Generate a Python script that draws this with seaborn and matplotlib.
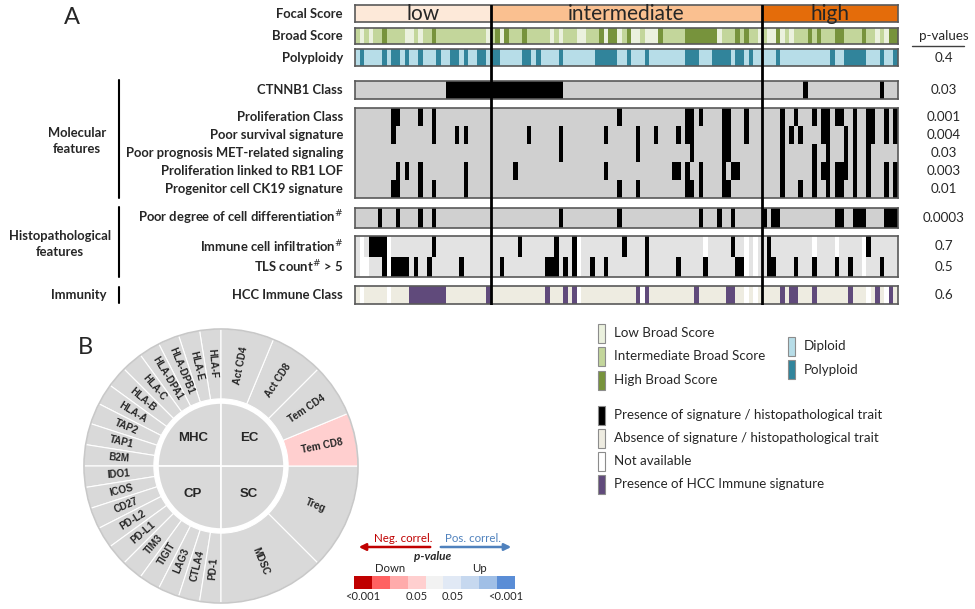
"""
Painel A: trilhas por amostra (escores, assinaturas, histologia, imunidade)
Painel B: anel de sinais imunes + escala de p-valor
"""
import numpy as np
import matplotlib

matplotlib.use("Agg")
import matplotlib.pyplot as plt
import matplotlib.transforms as mtransforms
from matplotlib.colors import ListedColormap
from matplotlib.lines import Line2D
from matplotlib.patches import Circle, Rectangle
import seaborn as sns

sns.set_theme(style="white")
plt.rcParams["font.family"] = ["Lato", "DejaVu Sans"]

# ---------------- dados ----------------
focal_groups = ["low", "intermediate", "high"]
focal_counts = [30, 60, 30]

# l = low, i = intermediate, h = high
broad_score = (
    "ililiihiii" "illiliihii" "iiiiiiiiil" "ihlhiiihii" "iiililiiil" "liiihlhhli"
    "hllilllhii" "iiihhhhhhh" "liiihihiil" "illhliliii" "hihiiihhii" "iihiililhh"
)
# d = diploid, p = polyploid
polyploidy = (
    "dpddddpdpp" "dpddpdddpd" "dppdpddppd" "ppdddddppd" "pddddpdddd" "dddpppppdd"
    "pdddpddddd" "dddpppdddp" "pppdppdpdd" "dddpdddddd" "dddddpddpp" "pppdddpddp"
)
# . = ausente, x = presente, - = não disponível
ctnnb1_class = (
    ".........." ".........." "xxxxxxxxxx" "xxxxxxxxxx" "xxxxxx...." ".........."
    ".........." ".........." ".........." ".........x" ".........." "......x..."
)
proliferation_class = (
    "........xx" "....x..x.." ".........." ".........." ".........." "........x."
    ".........." "...xx.x..." ".xx...x..." "....x..x.." ".x.xx.xx.." "x..xx..x.x"
)
poor_survival = (
    "........x." ".......x.." "..x.x....." "........x." ".....x...." ".....x...."
    "..x...x..." ".x.xx....." ".xx...x..." "....x.x.x." "...xx...x." "x..xx..x.x"
)
met_signaling = (
    ".........." ".........." ".........." ".........." ".....x...." ".........."
    "..x......." "....x....." ".xx......." "....x....." ".x..x...x." "x..x......"
)
rb1_lof = (
    ".........x" ".x..x....." "....x....." ".....x...." ".........." ".....x...."
    ".........." "xx.x..x..." ".x.xx....." "....x....." ".x.xx.xxx." "x..x...x.x"
)
ck19_signature = (
    "........xx" "....x..x.." "....x....." ".........." ".........." "........x."
    "..x......." "...xx.x..." ".xx......." "....x...x." ".x..x.xx.." "x..x...x.x"
)
poor_differentiation = (
    ".....x...x" "....x..x.." ".........." ".........." ".....x...." "........x."
    ".........." "......x..." "x..x......" "x.xx......" "......xx.." "xxx....xxx"
)
immune_infiltration = (
    ".-.xxxx-.." ".......x.." ".........." "......x..." "....x...x-" ".........x"
    "....x....." ".......-.." "...x..-.-." ".x........" ".-....-..." "..-x......"
)
tls_count = (
    ".--...x-xx" "xx.x..x..." "...x......" "..x......." "..xxx.x.x-" "..x..x...."
    "....x....." ".x.....x.." "....xx-.-." ".xx....x.." ".x....x..x" "..-...x..."
)
hcc_immune_class = (
    ".-.....-.." "..xxxxxxxx" ".........x" ".........." "..x...x.x-" ".........."
    "..x-x....." ".....x...." "..xx..-.-." "....x.xx.." ".x.......x" "...-.x.-x."
)

p_poly = ["0.4"]
p_ctnnb1 = ["0.03"]
p_molecular = ["0.001", "0.004", "0.03", "0.003", "0.01"]
p_differentiation = ["0.0003"]
p_immune = ["0.7", "0.5"]
p_hcc = ["0.6"]

molecular_labels = [
    "Proliferation Class",
    "Poor survival signature",
    "Poor prognosis MET-related signaling",
    "Proliferation linked to RB1 LOF",
    "Progenitor cell CK19 signature",
]
immune_labels = [r"Immune cell infiltration$^{\#}$", r"TLS count$^{\#}$ > 5"]

# painel B
ring_order = ["MHC", "CP", "SC", "EC"]
ring_groups = {
    "MHC": ["HLA-F", "HLA-E", "HLA-DPB1", "HLA-DPA1", "HLA-C", "HLA-B",
            "HLA-A", "TAP2", "TAP1", "B2M"],
    "CP": ["IDO1", "ICOS", "CD27", "PD-L2", "PD-L1", "TIM3", "TIGIT",
           "LAG3", "CTLA4", "PD-1"],
    "SC": ["MDSC", "Treg"],
    "EC": ["Tem CD8", "Tem CD4", "Act CD8", "Act CD4"],
}
ring_signif = {"Tem CD8": 3}  # índice na escala de p-valor
scale_colors = ["#c00000", "#ff6161", "#ffabab", "#ffcfcf", "#f2f2f2",
                "#e1e9f5", "#c6d8ef", "#a0bfe6", "#5a8dd6"]
scale_ticks = ["<0.001", "0.05", "0.05", "<0.001"]

broad_legend = ["Low Broad Score", "Intermediate Broad Score", "High Broad Score"]
ploidy_legend = ["Diploid", "Polyploid"]
trait_legend = ["Presence of signature / histopathological trait",
                "Absence of signature / histopathological trait",
                "Not available", "Presence of HCC Immune signature"]

# ---------------- cores ----------------
FOCAL_COLORS = ["#fde9d9", "#fac090", "#e46c0a"]
BROAD_COLORS = ["#ebf1de", "#c3d69b", "#77933c"]
PLOIDY_COLORS = ["#b7dde8", "#31849b"]
BINARY_COLORS = ["#d0d0d0", "black"]
IMMUNE_COLORS = ["#e3e3e3", "black", "white"]
HCC_COLORS = ["#eeece1", "#604a7b", "white"]
TRAIT_COLORS = ["black", "#eeece1", "white", "#604a7b"]

LABEL_FS = 9.4

W, H = 975, 609
fig = plt.figure(figsize=(W / 100, H / 100), dpi=100)


def px_axes(x0, y0, x1, y1):
    """Cria eixos a partir de coordenadas em pixels (origem no topo)."""
    return fig.add_axes([x0 / W, 1 - y1 / H, (x1 - x0) / W, (y1 - y0) / H])


# eixo de fundo em pixels para textos soltos, chaves e legenda
ax_px = fig.add_axes([0, 0, 1, 1])
ax_px.set_xlim(0, W)
ax_px.set_ylim(H, 0)
ax_px.axis("off")

TX0, TX1 = 355, 898
focal_row = "".join(c * n for c, n in zip("lih", focal_counts))

tracks = [
    ([focal_row], "lih", FOCAL_COLORS, (5, 22), ["Focal Score"], []),
    ([broad_score], "lih", BROAD_COLORS, (28, 44), ["Broad Score"], []),
    ([polyploidy], "dp", PLOIDY_COLORS, (49, 66), ["Polyploidy"], p_poly),
    ([ctnnb1_class], ".x", BINARY_COLORS, (81, 99), ["CTNNB1 Class"], p_ctnnb1),
    ([proliferation_class, poor_survival, met_signaling, rb1_lof, ck19_signature],
     ".x", BINARY_COLORS, (108, 198), molecular_labels, p_molecular),
    ([poor_differentiation], ".x", BINARY_COLORS, (208, 228),
     [r"Poor degree of cell differentiation$^{\#}$"], p_differentiation),
    ([immune_infiltration, tls_count], ".x-", IMMUNE_COLORS, (236, 277),
     immune_labels, p_immune),
    ([hcc_immune_class], ".x-", HCC_COLORS, (286, 304), ["HCC Immune Class"], p_hcc),
]

for rows, codes, colors, (y0, y1), labels, pvals in tracks:
    ax = px_axes(TX0, y0, TX1, y1)
    mat = np.array([[codes.index(c) for c in r] for r in rows])
    sns.heatmap(mat, ax=ax, cmap=ListedColormap(colors), vmin=-0.5,
                vmax=len(colors) - 0.5, cbar=False,
                xticklabels=False, yticklabels=False)
    for s in ax.spines.values():
        s.set_visible(True)
        s.set_color("#595959")
        s.set_linewidth(1.2)
    tf = mtransforms.blended_transform_factory(fig.transFigure, ax.transData)
    for i, lab in enumerate(labels):
        ax.text(343 / W, i + 0.5, lab, transform=tf, ha="right", va="center",
                fontsize=LABEL_FS, fontweight="bold")
    for i, p in enumerate(pvals):
        ax.text(944 / W, i + 0.5, p, transform=tf, ha="center", va="center",
                fontsize=9.6)
    if rows[0] == focal_row:
        start = 0
        for name, n in zip(focal_groups, focal_counts):
            ax.text(start + n / 2, 0.5, name, ha="center", va="center",
                    fontsize=15)
            start += n

# linhas verticais separando os grupos do Focal Score
ax_sep = px_axes(TX0, 5, TX1, 305)
ax_sep.set_xlim(0, sum(focal_counts))
ax_sep.set_ylim(0, 1)
ax_sep.axis("off")
ax_sep.set_zorder(10)
for b in np.cumsum(focal_counts)[:-1]:
    ax_sep.axvline(b, color="black", lw=2)

# cabeçalho dos p-valores
ax_px.text(944, 36, "p-values", ha="center", va="center", fontsize=9.6)
ax_px.add_line(Line2D([912, 964], [46, 46], color="#404040", lw=1))

# chaves dos grupos
for (ya, yb), txt, xt in [((80, 198), "Molecular\nfeatures", 77),
                          ((207, 277), "Histopathological\nfeatures", 60),
                          ((287, 303), "Immunity", 79)]:
    ax_px.add_line(Line2D([119, 119], [ya, yb], color="black", lw=1.5))
    ax_px.text(xt, (ya + yb) / 2 + (0 if txt == "Immunity" else 2), txt,
               ha="center", va="center", fontsize=LABEL_FS, fontweight="bold",
               linespacing=1.45)

ax_px.text(72, 18, "A", ha="center", va="center", fontsize=17)
ax_px.text(85, 347, "B", ha="center", va="center", fontsize=17)

# ---------------- legenda ----------------
def swatch(x, y, color, label):
    ax_px.add_patch(Rectangle((x - 3.5, y - 9.5), 7, 19, facecolor=color,
                              edgecolor="#8c8c8c", lw=0.8))
    ax_px.text(x + 13, y, label, ha="left", va="center", fontsize=9.6)


for i, (lab, col) in enumerate(zip(broad_legend, BROAD_COLORS)):
    swatch(601, 333 + i * 23.5, col, lab)
for i, (lab, col) in enumerate(zip(ploidy_legend, PLOIDY_COLORS)):
    swatch(791, 346 + i * 23.5, col, lab)
for i, (lab, col) in enumerate(zip(trait_legend, TRAIT_COLORS)):
    swatch(601, 415 + i * 23, col, lab)

# ---------------- painel B: anel ----------------
CX, CY, R = 221, 466, 137
ax_c = px_axes(CX - 140, CY - 140, CX + 140, CY + 140)
sizes, names, wcolors = [], [], []
for grp in ring_order:
    genes = ring_groups[grp]
    for g in genes:
        sizes.append(1 / len(genes))
        names.append(g)
        wcolors.append(scale_colors[ring_signif[g]] if g in ring_signif else "#d9d9d9")

wedges, _ = ax_c.pie(sizes, radius=1, startangle=90, counterclock=True,
                     colors=wcolors,
                     wedgeprops=dict(width=0.51, edgecolor="white", linewidth=0.8))
for w, name in zip(wedges, names):
    ang = (w.theta1 + w.theta2) / 2 % 360
    th = np.deg2rad(ang)
    rot = ang - 180 if 90 < ang < 270 else (ang if ang <= 90 else ang - 360)
    ax_c.text(0.75 * np.cos(th), 0.75 * np.sin(th), name, rotation=rot,
              rotation_mode="anchor", ha="center", va="center", fontsize=7.1,
              fontweight="bold", family=["Liberation Sans", "DejaVu Sans"])
ax_c.add_patch(Circle((0, 0), 1, fill=False, ec="#c8c8c8", lw=1.2))

inner, _ = ax_c.pie([1] * len(ring_order), radius=0.46, startangle=90,
                    counterclock=True, colors=["#d9d9d9"] * len(ring_order),
                    wedgeprops=dict(edgecolor="white", linewidth=1.2))
for w, grp in zip(inner, ring_order):
    th = np.deg2rad((w.theta1 + w.theta2) / 2)
    ax_c.text(0.29 * np.cos(th), 0.29 * np.sin(th), grp, ha="center",
              va="center", fontsize=9.5, fontweight="bold",
              family=["Liberation Sans", "DejaVu Sans"])
ax_c.set_xlim(-140 / R, 140 / R)
ax_c.set_ylim(-140 / R, 140 / R)

# ---------------- escala de p-valor ----------------
ax_s = px_axes(354, 576, 515, 589)
sns.heatmap(np.arange(len(scale_colors))[None, :], ax=ax_s,
            cmap=ListedColormap(scale_colors), vmin=-0.5,
            vmax=len(scale_colors) - 0.5, cbar=False,
            xticklabels=False, yticklabels=False)
ax_s.set_xticks([0.5, 3.5, 5.5, 8.5])
ax_s.set_xticklabels(scale_ticks, fontsize=8)
ax_s.tick_params(axis="x", length=0, pad=1.5)
ax_s.annotate("Down", xy=(2, 0), xytext=(0, 2), textcoords="offset pixels",
              ha="center", va="bottom", fontsize=8.2)
ax_s.annotate("Up", xy=(7, 0), xytext=(0, 2), textcoords="offset pixels",
              ha="center", va="bottom", fontsize=8.2)

ax_px.annotate("", xy=(356, 547), xytext=(433, 547),
               arrowprops=dict(arrowstyle="-|>", color="#c00000", lw=1.8,
                               mutation_scale=10))
ax_px.annotate("", xy=(514, 547), xytext=(438, 547),
               arrowprops=dict(arrowstyle="-|>", color="#4f81bd", lw=1.8,
                               mutation_scale=10))
ax_px.text(403, 538, "Neg. correl.", color="#c00000", ha="center",
           va="center", fontsize=8.3)
ax_px.text(473, 538, "Pos. correl.", color="#4f81bd", ha="center",
           va="center", fontsize=8.3)
ax_px.text(433, 557, "p-value", ha="center", va="center", fontsize=8.5,
           fontstyle="italic", fontweight="bold")

fig.savefig("out.png", dpi=100)
